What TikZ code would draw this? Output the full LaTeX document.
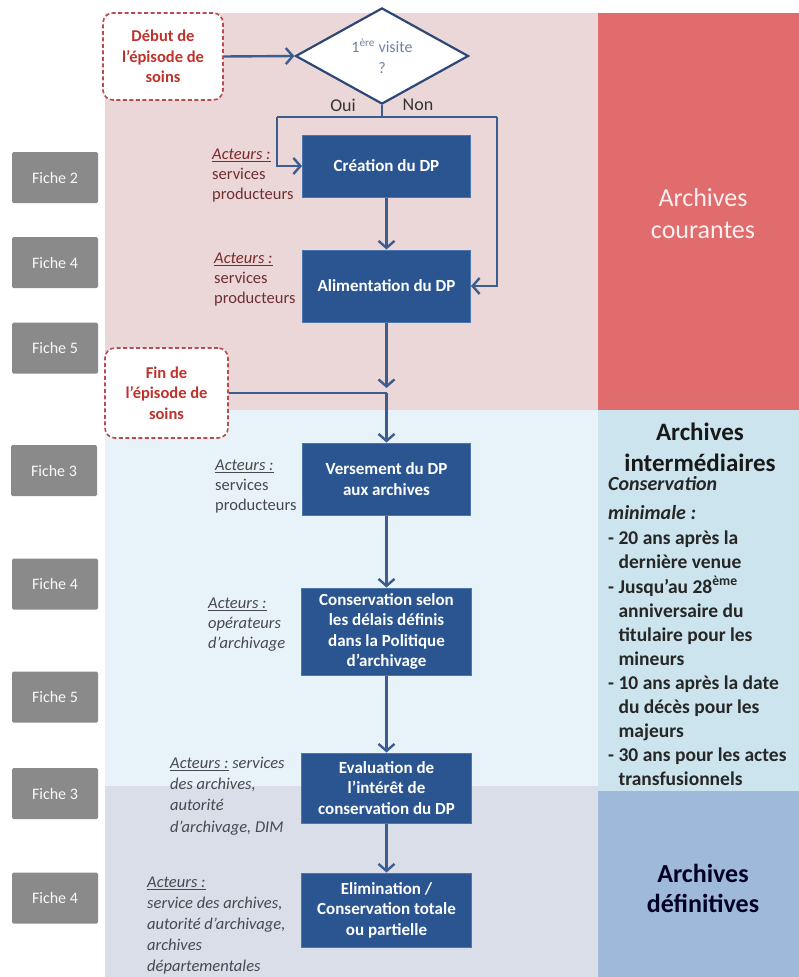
\documentclass[tikz,border=0pt]{standalone}
\usepackage{fontspec}
\setmainfont{Carlito}
\usetikzlibrary{arrows.meta,shapes.geometric}

\definecolor{pinkbg}{HTML}{EBD6D8}
\definecolor{redcol}{HTML}{E06C6E}
\definecolor{bluebg}{HTML}{E7F3F8}
\definecolor{bluecol}{HTML}{CCE4ED}
\definecolor{greybg}{HTML}{D9DEE8}
\definecolor{navycol}{HTML}{9EB9DA}
\definecolor{boxblue}{HTML}{2A5591}
\definecolor{boxedge}{HTML}{4B77AE}
\definecolor{linkblue}{HTML}{3C5D8F}
\definecolor{ficheg}{HTML}{8A8A8A}
\definecolor{dashred}{HTML}{BA4A4E}
\definecolor{startred}{HTML}{C0322C}
\definecolor{actbrown}{HTML}{6E2F30}
\definecolor{actgrey}{HTML}{48484F}
\definecolor{diamtxt}{HTML}{7282A0}
\definecolor{diamedge}{HTML}{2D4877}

\newcommand{\fsz}[2]{\fontsize{#1}{#2}\selectfont}

\begin{document}
\begin{tikzpicture}[x=1pt,y=-1pt,
  procbox/.style={fill=boxblue,draw=boxedge,line width=1pt,text=white,
    font=\bfseries\fsz{17}{20.5},align=center,inner sep=0pt},
  startbox/.style={fill=white,draw=dashred,dash pattern=on 4pt off 2.5pt,line width=1.6pt,
    rounded corners=10pt,text=startred,font=\bfseries\fsz{16.5}{20.5},align=center,inner sep=0pt},
  fichebox/.style={fill=ficheg,rounded corners=1.5pt,text=white!95!gray,
    font=\fsz{16}{19},minimum width=86,minimum height=51,inner sep=0pt},
  actors/.style={anchor=north west,align=left,inner sep=0pt,font=\fsz{16.5}{20}},
  conn/.style={draw=linkblue,line width=2.4pt},
  arr/.style={conn,-{Straight Barb[length=7pt,width=16pt]}},
  sidetext/.style={align=left,inner sep=0pt,anchor=north west},
]
\useasboundingbox (0,0) rectangle (799,977);

% background bands and side column
\fill[pinkbg]  (105,13)  rectangle (598,410);
\fill[redcol]  (598,13)  rectangle (799,410);
\fill[bluebg]  (105,410) rectangle (598,786);
\fill[bluecol] (598,410) rectangle (799,791);
\fill[greybg]  (105,786) rectangle (598,977);
\fill[navycol] (598,791) rectangle (799,977);

% fiche references
\node[fichebox] (f1) at (55,177.5) {Fiche 2};
\node[fichebox] (f2) at (55,262.5) {Fiche 4};
\node[fichebox] (f3) at (55,348) {Fiche 5};
\node[fichebox] (f4) at (54,470.5) {Fiche 3};
\node[fichebox] (f5) at (55,584) {Fiche 4};
\node[fichebox] (f6) at (55,697) {Fiche 5};
\node[fichebox] (f7) at (55,793.5) {Fiche 3};
\node[fichebox] (f8) at (55,898) {Fiche 4};

% start / end of the care episode
\node[startbox,minimum width=120,minimum height=87] (debut) at (163,56.5) {Début de\\l'épisode de\\soins};
\node[startbox,minimum width=123,minimum height=90] (fin) at (166.5,393) {Fin de\\l'épisode de\\soins};

% decision
\node[diamond,draw=diamedge,fill=white,line width=2.2pt,minimum width=173,minimum height=85,
  inner sep=0pt,text=diamtxt,font=\fsz{16}{21},align=center] (visite) at (382,56)
  {1\textsuperscript{ère} visite\\?};
\node[font=\fsz{18}{20},text=black!80,inner sep=0pt] (oui) at (343,105) {Oui};
\node[font=\fsz{18}{20},text=black!80,inner sep=0pt] (non) at (418,105) {Non};

% process steps
\node[procbox,minimum width=168,minimum height=62] (creation) at (386.5,166) {Création du DP};
\node[procbox,minimum width=168,minimum height=72] (aliment) at (386.5,286) {Alimentation du DP};
\node[procbox,minimum width=168,minimum height=72] (versement) at (386.5,479) {Versement du DP\\aux archives};
\node[procbox,minimum width=170,minimum height=87] (conserv) at (386.5,631.5) {Conservation selon\\les délais définis\\dans la Politique\\d'archivage};
\node[procbox,minimum width=170,minimum height=70] (evalu) at (386.5,788) {Evaluation de\\l'intérêt de\\conservation du DP};
\node[procbox,minimum width=170,minimum height=74] (elim) at (386.5,910) {Elimination /\\Conservation totale\\ou partielle};

% connectors
\coordinate (split) at (382,117);
\coordinate (ouiturn) at (277,117);
\coordinate (nonturn) at (497,117);
\coordinate (merge) at (386.5,393);
\draw[arr] (debut.east) -- (visite.west);
\draw[conn] (visite.south) -- (split);
\draw[conn] (ouiturn) -- (nonturn);
\draw[arr] (ouiturn) |- (creation.west);
\draw[arr] (nonturn) |- (aliment.east);
\draw[arr] (creation) -- (aliment);
\draw[arr,shorten >=5pt] (aliment.south) -- (merge);
\draw[conn] (fin.east) -- (merge);
\draw[arr] (merge) -- (versement.north);
\draw[arr] (versement) -- (conserv);
\draw[arr] (conserv) -- (evalu);
\draw[arr] (evalu) -- (elim);

% actors
\node[actors,text=actbrown] (a1) at (212,149)
  {\textcolor{actbrown!90!red}{\underline{\itshape Acteurs :}}\\services\\producteurs};
\node[actors,text=actbrown] (a2) at (214,253)
  {\textcolor{actbrown!90!red}{\underline{\itshape Acteurs :}}\\services\\producteurs};
\node[actors,text=actgrey] (a3) at (215,460)
  {\underline{\itshape Acteurs :}\\services\\producteurs};
\node[actors,text=actgrey,font=\itshape\fsz{16.5}{20}] (a4) at (208,598)
  {\underline{Acteurs :}\\opérateurs\\d'archivage};
\node[actors,text=actgrey,font=\itshape\fsz{16.5}{21.2}] (a5) at (170,757)
  {\underline{Acteurs :} services\\des archives,\\autorité\\d'archivage, DIM};
\node[actors,text=actgrey,font=\itshape\fsz{16.5}{21}] (a6) at (147,877)
  {\underline{Acteurs :}\\service des archives,\\autorité d'archivage,\\archives\\départementales};

% archive phases
\node[align=center,inner sep=0pt,text=white!94!red,font=\fsz{26}{32}] (courantes) at (703,214)
  {Archives\\courantes};
\node[align=center,inner sep=0pt,text=black!90,font=\bfseries\fsz{25}{31}] (interm) at (700,447)
  {Archives\\intermédiaires};
\node[sidetext,text=black!85,font=\bfseries\itshape\fsz{20}{29}] (minimale) at (608,476)
  {Conservation\\minimale :};
\node[sidetext,text=black!85,font=\bfseries\fsz{19.5}{24.1}] (delais) at (608,531)
  {- 20 ans après la\\\hphantom{-} dernière venue\\
   - Jusqu'au 28\textsuperscript{ème}\\\hphantom{-} anniversaire du\\\hphantom{-} titulaire pour les\\\hphantom{-} mineurs\\
   - 10 ans après la date\\\hphantom{-} du décès pour les\\\hphantom{-} majeurs\\
   - 30 ans pour les actes\\\hphantom{-} transfusionnels};
\node[align=center,inner sep=0pt,text=black!85!blue,font=\bfseries\fsz{26}{30}] (definitives) at (703,888)
  {Archives\\définitives};
\end{tikzpicture}
\end{document}
